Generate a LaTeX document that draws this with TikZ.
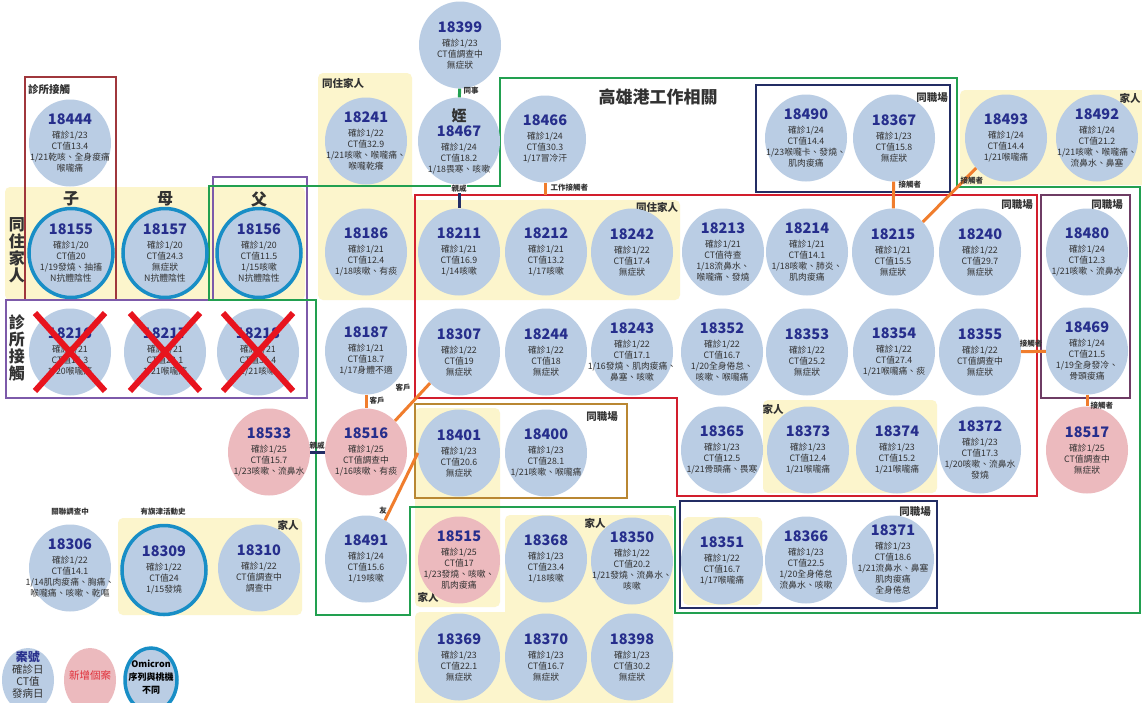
\documentclass[tikz,border=0pt]{standalone}
\usepackage{fontspec}
\setmainfont{Noto Sans CJK TC}
\usetikzlibrary{shapes.geometric}
\definecolor{cfill}{RGB}{186,205,228}
\definecolor{pfill}{RGB}{236,186,190}
\definecolor{yfill}{RGB}{252,245,204}
\definecolor{numc}{RGB}{38,46,140}
\definecolor{txtc}{RGB}{50,50,50}
\definecolor{ringc}{RGB}{24,142,198}
\definecolor{cgreen}{RGB}{34,160,80}
\definecolor{cred}{RGB}{210,30,45}
\definecolor{cnavy}{RGB}{35,45,100}
\definecolor{cbrown}{RGB}{160,55,60}
\definecolor{cpurple}{RGB}{125,90,170}
\definecolor{cmag}{RGB}{110,60,100}
\definecolor{cgold}{RGB}{185,135,50}
\definecolor{corange}{RGB}{240,125,45}
\definecolor{cxred}{RGB}{232,20,30}
\definecolor{cnewred}{RGB}{224,48,58}
\newcommand\cnum[1]{{\fontsize{14.5}{15}\selectfont\bfseries\color{numc}#1}}
\newcommand\casenode[4]{%
  \node[#1] (n#2) at (#3) {};
  \node[casetxt] (t#2) at (n#2) {\cnum{#2}\\[3pt]#4};
}
\tikzset{
  casebg/.style={ellipse, minimum width=82, minimum height=87, inner sep=0, fill=cfill},
  pinkbg/.style={casebg, fill=pfill},
  ringbg/.style={casebg, draw=ringc, line width=3.5, minimum width=84, minimum height=89},
  casetxt/.style={align=center, inner sep=0, text=txtc, font=\fontsize{8.8}{11}\selectfont},
  boxline/.style={line width=2.5},
  grplabel/.style={inner sep=0, text=txtc, font=\fontsize{10.5}{12}\selectfont\bfseries},
  biglabel/.style={inner sep=0, text=txtc, font=\fontsize{16}{17}\selectfont\bfseries, align=center},
  conlabel/.style={inner sep=0.5, text=txtc, font=\fontsize{7.5}{8}\selectfont\bfseries},
  cono/.style={draw=corange, line width=3},
  conn/.style={draw=cnavy, line width=3},
  cong/.style={draw=cgreen, line width=3},
  xmark/.style={draw=cxred, line width=6},
  yband/.style={fill=yfill, rounded corners=5},
}
\begin{document}
\begin{tikzpicture}[x=1pt,y=-1pt]
\useasboundingbox (0,0) rectangle (1142,702);
\clip (0,0) rectangle (1142,702);
\fill[white] (0,0) rectangle (1142,702);
% yellow backgrounds
\fill[yband] (5,187) rectangle (305,300);
\fill[yband] (318,73) -- (412,73) -- (412,200) -- (680,200) -- (680,300) -- (318,300) -- cycle;
\fill[yband] (960,90) rectangle (1150,185);
\fill[yband] (763,400) rectangle (937,493);
\fill[yband] (683,517) rectangle (762,605);
\fill[yband] (118,518) rectangle (302,615);
\fill[yband] (415,408) rectangle (500,607);
\fill[yband] (505,515) rectangle (673,710);
\fill[yband] (415,612) rectangle (673,710);
% boxes
\draw[boxline, cbrown] (25,77) rectangle (116,300);
\draw[boxline, cpurple] (213,177) rectangle (307,300);
\draw[boxline, cpurple] (6,300) rectangle (307,398);
\draw[boxline, cgreen] (209,186) -- (500,186) -- (500,78) -- (957,78) -- (957,187) -- (1140,187) -- (1140,613) -- (675,613) -- (675,507) -- (410,507) -- (410,615) -- (316,615) -- (316,300) -- (209,300) -- cycle;
\draw[boxline, cred] (415,195) -- (1037,195) -- (1037,496) -- (677,496) -- (677,398) -- (415,398) -- cycle;
\draw[boxline, cnavy] (756,85) rectangle (950,192);
\draw[boxline, cmag] (1041,195) rectangle (1130,398);
\draw[boxline, cgold] (415,404) rectangle (627,498);
\draw[boxline, cnavy] (680,501) rectangle (937,608);
% group labels
\node[grplabel, anchor=west] (g1) at (28,90) {診所接觸};
\node[biglabel] (g2) at (71,199) {子};
\node[biglabel] (g3) at (165,199) {母};
\node[biglabel] (g4) at (259,199) {父};
\node[biglabel] (g5) at (17,250) {同\\住\\家\\人};
\node[biglabel] (g6) at (17,348) {診\\所\\接\\觸};
\node[grplabel] (g7) at (343,83) {同住家人};
\node[grplabel] (g8) at (657,207) {同住家人};
\node[inner sep=0, text=txtc, font=\fontsize{17}{18}\selectfont\bfseries] (title) at (658,97) {高雄港工作相關};
\node[grplabel] (g9) at (932,98) {同職場};
\node[grplabel] (g10) at (1130,98) {家人};
\node[grplabel] (g11) at (1017,205) {同職場};
\node[grplabel] (g12) at (1107,205) {同職場};
\node[grplabel] (g13) at (602,417) {同職場};
\node[grplabel] (g14) at (595,523) {家人};
\node[grplabel] (g15) at (428,597) {家人};
\node[grplabel] (g16) at (773,409) {家人};
\node[grplabel] (g17) at (915,512) {同職場};
\node[grplabel] (g18) at (288,525) {家人};
\node[conlabel] (g19) at (70,512) {關聯調查中};
\node[conlabel] (g20) at (163,512) {有旗津活動史};
% cases
\casenode{casebg}{18399}{460,45}{確診1/23\\CT值調查中\\無症狀}
\casenode{casebg}{18444}{70,143}{確診1/23\\CT值13.4\\1/21乾咳、全身痠痛\\喉嚨痛}
\casenode{casebg}{18241}{366,141}{確診1/22\\CT值32.9\\1/21咳嗽、喉嚨痛、\\喉嚨乾癢}
\node[casebg] (n18467) at (459,141) {};
\node[casetxt] (t18467) at (n18467) {{\fontsize{15}{15}\selectfont\bfseries\color{txtc}姪}\\[2pt]\cnum{18467}\\[3pt]確診1/24\\CT值18.2\\1/18畏寒、咳嗽};
\casenode{casebg}{18466}{545,139}{確診1/24\\CT值30.3\\1/17冒冷汗}
\casenode{casebg}{18490}{806,138}{確診1/24\\CT值14.4\\1/23喉嚨卡、發燒、\\肌肉痠痛}
\casenode{casebg}{18367}{894,138}{確診1/23\\CT值15.8\\無症狀}
\casenode{casebg}{18493}{1006,138}{確診1/24\\CT值14.4\\1/21喉嚨痛}
\casenode{casebg}{18492}{1097,138}{確診1/24\\CT值21.2\\1/21咳嗽、喉嚨痛、\\流鼻水、鼻塞}
\casenode{ringbg}{18155}{71,253}{確診1/20\\CT值20\\1/19發燒、抽搐\\N抗體陰性}
\casenode{ringbg}{18157}{165,253}{確診1/20\\CT值24.3\\無症狀\\N抗體陰性}
\casenode{ringbg}{18156}{259,253}{確診1/20\\CT值11.5\\1/15咳嗽\\N抗體陰性}
\casenode{casebg}{18186}{366,252}{確診1/21\\CT值12.4\\1/18咳嗽、有痰}
\casenode{casebg}{18211}{459,252}{確診1/21\\CT值16.9\\1/14咳嗽}
\casenode{casebg}{18212}{546,252}{確診1/21\\CT值13.2\\1/17咳嗽}
\casenode{casebg}{18242}{632,252}{確診1/22\\CT值17.4\\無症狀}
\casenode{casebg}{18213}{723,252}{確診1/21\\CT值待查\\1/18流鼻水、\\喉嚨痛、發燒}
\casenode{casebg}{18214}{807,252}{確診1/21\\CT值14.1\\1/18咳嗽、肺炎、\\肌肉痠痛}
\casenode{casebg}{18215}{893,252}{確診1/21\\CT值15.5\\無症狀}
\casenode{casebg}{18240}{980,252}{確診1/22\\CT值29.7\\無症狀}
\casenode{casebg}{18480}{1087,252}{確診1/24\\CT值12.3\\1/21咳嗽、流鼻水}
\casenode{casebg}{18216}{70,352}{確診1/21\\CT值15.3\\1/20喉嚨痛}
\casenode{casebg}{18217}{165,352}{確診1/21\\CT值22.1\\1/21喉嚨痛}
\casenode{casebg}{18218}{258,352}{確診1/21\\CT值31.4\\1/21咳嗽}
\casenode{casebg}{18187}{366,351}{確診1/21\\CT值18.7\\1/17身體不適}
\casenode{casebg}{18307}{459,352}{確診1/22\\CT值19\\無症狀}
\casenode{casebg}{18244}{546,352}{確診1/22\\CT值18\\無症狀}
\casenode{casebg}{18243}{632,352}{確診1/22\\CT值17.1\\1/16發燒、肌肉痠痛、\\鼻塞、咳嗽}
\casenode{casebg}{18352}{722,352}{確診1/22\\CT值16.7\\1/20全身倦怠、\\咳嗽、喉嚨痛}
\casenode{casebg}{18353}{807,352}{確診1/22\\CT值25.2\\無症狀}
\casenode{casebg}{18354}{894,352}{確診1/22\\CT值27.4\\1/21喉嚨痛、痰}
\casenode{casebg}{18355}{980,352}{確診1/22\\CT值調查中\\無症狀}
\casenode{casebg}{18469}{1087,351}{確診1/24\\CT值21.5\\1/19全身發冷、\\骨頭痠痛}
\casenode{pinkbg}{18533}{269,452}{確診1/25\\CT值15.7\\1/23咳嗽、流鼻水}
\casenode{pinkbg}{18516}{366,452}{確診1/25\\CT值調查中\\1/16咳嗽、有痰}
\casenode{casebg}{18401}{459,453}{確診1/23\\CT值20.6\\無症狀}
\casenode{casebg}{18400}{546,453}{確診1/23\\CT值28.1\\1/21咳嗽、喉嚨痛}
\casenode{casebg}{18365}{722,450}{確診1/23\\CT值12.5\\1/21骨頭痛、畏寒}
\casenode{casebg}{18373}{808,450}{確診1/23\\CT值12.4\\1/21喉嚨痛}
\casenode{casebg}{18374}{897,450}{確診1/23\\CT值15.2\\1/21喉嚨痛}
\casenode{casebg}{18372}{980,450}{確診1/23\\CT值17.3\\1/20咳嗽、流鼻水\\發燒}
\casenode{pinkbg}{18517}{1087,450}{確診1/25\\CT值調查中\\無症狀}
\casenode{casebg}{18306}{70,568}{確診1/22\\CT值14.1\\1/14肌肉痠痛、胸痛、\\喉嚨痛、咳嗽、乾嘔}
\casenode{ringbg}{18309}{164,570}{確診1/22\\CT值24\\1/15發燒}
\casenode{casebg}{18310}{259,568}{確診1/22\\CT值調查中\\調查中}
\casenode{casebg}{18491}{366,559}{確診1/24\\CT值15.6\\1/19咳嗽}
\casenode{pinkbg}{18515}{459,560}{確診1/25\\CT值17\\1/23發燒、咳嗽、\\肌肉痠痛}
\casenode{casebg}{18368}{546,559}{確診1/23\\CT值23.4\\1/18咳嗽}
\casenode{casebg}{18350}{632,561}{確診1/22\\CT值20.2\\1/21發燒、流鼻水、\\咳嗽}
\casenode{casebg}{18351}{722,561}{確診1/22\\CT值16.7\\1/17喉嚨痛}
\casenode{casebg}{18366}{806,560}{確診1/23\\CT值22.5\\1/20全身倦怠\\流鼻水、咳嗽}
\casenode{casebg}{18371}{893,559}{確診1/23\\CT值18.6\\1/21流鼻水、鼻塞\\肌肉痠痛\\全身倦怠}
\casenode{casebg}{18369}{459,657}{確診1/23\\CT值22.1\\無症狀}
\casenode{casebg}{18370}{546,657}{確診1/23\\CT值16.7\\無症狀}
\casenode{casebg}{18398}{632,657}{確診1/23\\CT值30.2\\無症狀}
% crosses
\foreach \c in {18216,18217,18218}{
  \draw[xmark] ([shift={(-35,-39)}]n\c.center) -- ([shift={(35,39)}]n\c.center);
  \draw[xmark] ([shift={(35,-39)}]n\c.center) -- ([shift={(-35,39)}]n\c.center);
}
% legend
\node[casebg, minimum width=52, minimum height=64] (lg1) at (28,680) {};
\node[casetxt, font=\fontsize{10.5}{12}\selectfont] (lt1) at (28,675) {{\bfseries\fontsize{12}{12}\selectfont\color{numc}案號}\\確診日\\CT值\\發病日};
\node[pinkbg, minimum width=52, minimum height=64] (lg2) at (90,680) {};
\node[inner sep=0, text=cnewred, font=\fontsize{10.5}{12}\selectfont] (lt2) at (90,675) {新增個案};
\node[ringbg, minimum width=52, minimum height=64] (lg3) at (151,680) {};
\node[casetxt, text=black, font=\fontsize{9}{13}\selectfont\bfseries] (lt3) at (151,677) {Omicron\\序列與桃機\\不同};
% connectors
\coordinate (rtop) at (545,195);
\draw[cong] (n18399) -- (n18467);
\node[conlabel, anchor=west] (c1) at (463,91) {同事};
\draw[conn] (n18467) -- (n18211);
\node[conlabel, fill=white] (c2) at (459,189) {親戚};
\draw[cono] (n18466) -- (rtop);
\node[conlabel, anchor=west] (c3) at (550,188) {工作接觸者};
\draw[cono] (n18367) -- (n18215);
\node[conlabel, anchor=west] (c4) at (898,185) {接觸者};
\draw[cono] (n18493) -- (n18215);
\node[conlabel, anchor=west] (c5) at (960,181) {接觸者};
\draw[cono] (n18355) -- (n18469);
\node[conlabel] (c6) at (1031,344) {接觸者};
\draw[cono] (n18469) -- (n18517);
\node[conlabel, anchor=west] (c7) at (1090,406) {接觸者};
\draw[cono] (n18187) -- (n18516);
\node[conlabel, anchor=west] (c8) at (369,401) {客戶};
\draw[cono] (n18307) -- (n18516);
\node[conlabel] (c9) at (403,388) {客戶};
\draw[conn] (n18516) -- (n18533);
\node[conlabel] (c10) at (317,446) {親戚};
\draw[cono] (n18401.west) -- (n18491);
\node[conlabel] (c11) at (383,511) {友};
\end{tikzpicture}
\end{document}
